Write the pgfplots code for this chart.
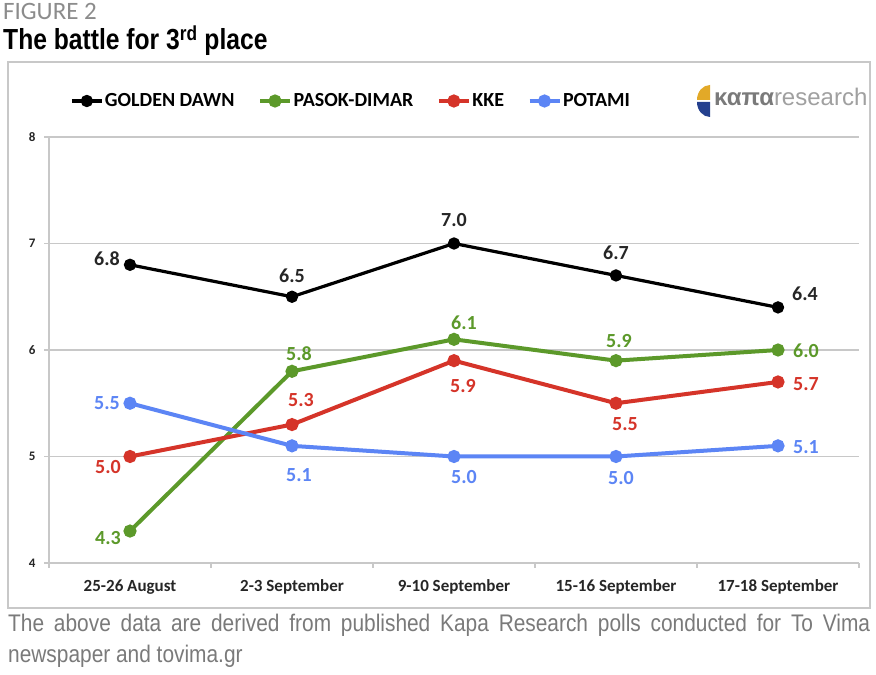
\documentclass[border=0pt]{standalone}
\usepackage{fontspec}
\setmainfont{Carlito}
\newfontfamily\arialn[FakeStretch=0.85]{Liberation Sans}
\newfontfamily\capfont[FakeStretch=0.87]{Liberation Sans}
\newfontfamily\logofont{Liberation Sans}
\usepackage{pgfplots}
\pgfplotsset{compat=1.18}
\definecolor{gdblack}{HTML}{000000}
\definecolor{pgreen}{HTML}{5C992A}
\definecolor{kred}{HTML}{D53429}
\definecolor{pblue}{HTML}{5C85F5}
\definecolor{gridgray}{HTML}{C8C8C8}
\definecolor{labgray}{HTML}{262626}
\definecolor{capgray}{HTML}{7A7A7A}
\definecolor{figgray}{HTML}{8C8C8C}
\definecolor{logogold}{HTML}{E2A928}
\definecolor{logoblue}{HTML}{24408E}
\definecolor{logotext}{HTML}{7A7A7A}
\definecolor{logolight}{HTML}{A0A0A0}
\tikzset{lab/.style={font=\bfseries\fontsize{20}{20}\selectfont, inner sep=0pt, anchor=center}}
\begin{document}
\begin{tikzpicture}[x=1pt,y=1pt]
\useasboundingbox (0,0) rectangle (876,675);
\fill[white] (0,0) rectangle (876,675);
\draw[gridgray, line width=1.8pt] (8,67) rectangle (870,613);
\node[anchor=base west, inner sep=0, text=figgray, font=\fontsize{25}{25}\selectfont] at (3,655) {FIGURE 2};
\node[anchor=base west, inner sep=0, font=\arialn\bfseries\fontsize{29}{29}\selectfont] at (3,625) {The battle for 3\textsuperscript{rd} place};
\node[anchor=base west, inner sep=0, text width=862pt, align=justify, text=capgray, font=\capfont\fontsize{24}{31}\selectfont] at (8,43) {\hyphenpenalty=10000 The above data are derived from published Kapa Research polls conducted for To Vima\linebreak newspaper and tovima.gr\par};
% logo
\fill[logogold] (710,575) -- (710,590) arc[start angle=90,end angle=180,x radius=13,y radius=15] -- cycle;
\fill[logoblue] (710,573) -- (697,573) arc[start angle=180,end angle=270,x radius=13,y radius=15] -- cycle;
\node[anchor=base west, inner sep=0, font=\logofont\fontsize{24}{24}\selectfont] at (714,569) {\textcolor{logotext}{\bfseries καπα}\textcolor{logolight}{research}};
\begin{axis}[
  at={(49pt,112pt)}, anchor=south west, scale only axis,
  width=810pt, height=426pt,
  xmin=-0.5, xmax=4.5, ymin=4, ymax=8,
  axis x line=bottom, axis y line=left,
  axis line style={gridgray, line width=1.5pt, -},
  xtick={-0.5,0.5,1.5,2.5,3.5,4.5},
  x tick label as interval,
  xticklabels={25-26 August, 2-3 September, 9-10 September, 15-16 September, 17-18 September},
  x tick label style={font=\bfseries\fontsize{17}{17}\selectfont, text=labgray, yshift=-8pt},
  ytick={4,5,6,7,8},
  /pgf/number format/assume math mode=true,
  y tick label style={font=\bfseries\fontsize{13}{13}\selectfont, text=labgray, xshift=-5pt},
  tick align=outside, major tick length=5pt,
  tick style={gridgray, line width=1.5pt},
  ymajorgrids, grid style={gridgray, line width=1.5pt},
  clip=false,
  legend columns=4,
  legend style={at={(0.026,1.0845)}, anchor=west, draw=none, fill=none, inner sep=0pt,
    font=\bfseries\fontsize{20}{20}\selectfont, nodes={inner sep=1.5pt},
    /tikz/every even column/.append style={column sep=22pt}},
  legend image code/.code={\draw[mark repeat=2, mark phase=2, #1] plot coordinates {(0pt,0pt) (15pt,0pt) (30pt,0pt)};},
]
\addplot[gdblack, line width=3.2pt, mark=*, mark size=4.5pt, mark options={solid}] coordinates {(0,6.8) (1,6.5) (2,7.0) (3,6.7) (4,6.4)};
\addlegendentry{GOLDEN DAWN}
\addplot[pgreen, line width=4pt, mark=*, mark size=4.5pt, mark options={solid}] coordinates {(0,4.3) (1,5.8) (2,6.1) (3,5.9) (4,6.0)};
\addlegendentry{PASOK-DIMAR}
\addplot[kred, line width=4pt, mark=*, mark size=4.5pt, mark options={solid}] coordinates {(0,5.0) (1,5.3) (2,5.9) (3,5.5) (4,5.7)};
\addlegendentry{KKE}
\addplot[pblue, line width=4pt, mark=*, mark size=4.5pt, mark options={solid}] coordinates {(0,5.5) (1,5.1) (2,5.0) (3,5.0) (4,5.1)};
\addlegendentry{POTAMI}
% data labels: golden dawn
\node[lab, text=labgray, xshift=-23pt, yshift=6pt] at (axis cs:0,6.8) {6.8};
\node[lab, text=labgray, xshift=0pt, yshift=21pt] at (axis cs:1,6.5) {6.5};
\node[lab, text=labgray, xshift=0pt, yshift=23pt] at (axis cs:2,7.0) {7.0};
\node[lab, text=labgray, xshift=0pt, yshift=23pt] at (axis cs:3,6.7) {6.7};
\node[lab, text=labgray, xshift=27pt, yshift=14pt] at (axis cs:4,6.4) {6.4};
% pasok
\node[lab, text=pgreen, xshift=-22pt, yshift=-7pt] at (axis cs:0,4.3) {4.3};
\node[lab, text=pgreen, xshift=7pt, yshift=18pt] at (axis cs:1,5.8) {5.8};
\node[lab, text=pgreen, xshift=10pt, yshift=17pt] at (axis cs:2,6.1) {6.1};
\node[lab, text=pgreen, xshift=3pt, yshift=20pt] at (axis cs:3,5.9) {5.9};
\node[lab, text=pgreen, xshift=28pt, yshift=-1pt] at (axis cs:4,6.0) {6.0};
% kke
\node[lab, text=kred, xshift=-22pt, yshift=-11pt] at (axis cs:0,5.0) {5.0};
\node[lab, text=kred, xshift=9pt, yshift=25pt] at (axis cs:1,5.3) {5.3};
\node[lab, text=kred, xshift=9pt, yshift=-25pt] at (axis cs:2,5.9) {5.9};
\node[lab, text=kred, xshift=9pt, yshift=-21pt] at (axis cs:3,5.5) {5.5};
\node[lab, text=kred, xshift=28pt, yshift=-2pt] at (axis cs:4,5.7) {5.7};
% potami
\node[lab, text=pblue, xshift=-23pt, yshift=0pt] at (axis cs:0,5.5) {5.5};
\node[lab, text=pblue, xshift=7pt, yshift=-29pt] at (axis cs:1,5.1) {5.1};
\node[lab, text=pblue, xshift=10pt, yshift=-21pt] at (axis cs:2,5.0) {5.0};
\node[lab, text=pblue, xshift=5pt, yshift=-22pt] at (axis cs:3,5.0) {5.0};
\node[lab, text=pblue, xshift=28pt, yshift=-1pt] at (axis cs:4,5.1) {5.1};
\end{axis}
\end{tikzpicture}
\end{document}
